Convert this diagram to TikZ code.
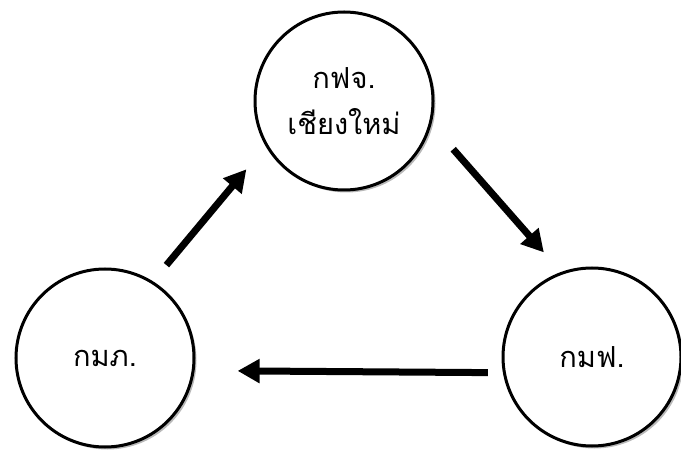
\documentclass[tikz,border=0pt]{standalone}
\usepackage{fontspec}
\newfontfamily\thaifont[Script=Thai]{Loma}
\usetikzlibrary{arrows.meta}
\usetikzlibrary{shadows}

\begin{document}
\begin{tikzpicture}[x=1bp,y=-1bp,
    office/.style={circle,draw,line width=3bp,fill=white,minimum size=178bp,
      align=center,font=\thaifont\fontsize{29bp}{46bp}\selectfont,
      drop shadow={shadow xshift=2.5bp,shadow yshift=-2.5bp,fill=black!55}},
    flow/.style={line width=7bp,-{Triangle[length=22bp,width=23bp]}}]
  \useasboundingbox (0,0) rectangle (681,450);
  \node[office] (fjcm) at (344,101) {กฟจ.\\เชียงใหม่};
  \node[office] (mpa) at (105,358) {กมภ.};
  \node[office] (mfa) at (592,357) {กมฟ.};
  \draw[flow,shorten <=21bp,shorten >=30bp] (mpa.58) -- (fjcm.210);
  \draw[flow,shorten <=33bp,shorten >=26bp] (fjcm.345) -- (mfa.110);
  \draw[flow,shorten <=15bp,shorten >=43bp] (mfa.190) -- (mpa.352);
\end{tikzpicture}
\end{document}
